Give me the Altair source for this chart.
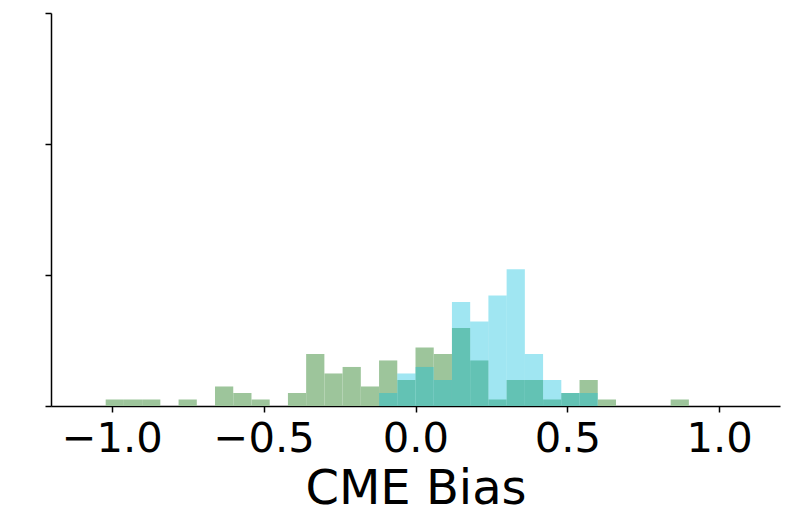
import altair as alt
import pandas as pd

# Shared histogram bin edges (CME bias)
bin_edges = [-1.02, -0.96, -0.90, -0.84, -0.78, -0.72, -0.66, -0.60, -0.54, -0.48,
             -0.42, -0.36, -0.30, -0.24, -0.18, -0.12, -0.06, 0.00, 0.06, 0.12,
             0.18, 0.24, 0.30, 0.36, 0.42, 0.48, 0.54, 0.60, 0.66, 0.72,
             0.78, 0.84, 0.90]

# Counts per bin
green_counts = [1, 1, 1, 0, 1, 0, 3, 2, 1, 0,
                2, 8, 5, 6, 3, 7, 4, 9, 8, 12,
                7, 1, 4, 4, 1, 2, 4, 1, 0, 0,
                0, 1]
cyan_counts = [0, 0, 0, 0, 0, 0, 0, 0, 0, 0,
               0, 0, 0, 0, 0, 2, 5, 6, 4, 16,
               13, 17, 21, 8, 4, 2, 2, 0, 0, 0,
               0, 0]

x_ticks = [-1.0, -0.5, 0.0, 0.5, 1.0]
y_top = 60.4
y_ticks = [0, 20.13, 40.27, 60.4]

def frame(counts):
    return pd.DataFrame({
        "start": bin_edges[:-1],
        "end": bin_edges[1:],
        "count": counts,
    })

green_df = frame(green_counts)
cyan_df = frame(cyan_counts)

x_enc = alt.X(
    "start:Q",
    scale=alt.Scale(domain=[-1.2, 1.2], nice=False, zero=False),
    axis=alt.Axis(
        values=x_ticks,
        labelExpr="replace(format(datum.value, '.1f'), '-', '\u2212')",
        labelFont="DejaVu Sans",
        labelFontSize=41.7,
        labelColor="black",
        labelPadding=6,
        tickSize=6,
        tickWidth=1.5,
        tickColor="black",
        domainColor="black",
        domainWidth=1.5,
        grid=False,
        title="CME Bias",
        titleFont="DejaVu Sans",
        titleFontSize=48,
        titleFontWeight="normal",
        titleColor="black",
        titleBaseline="alphabetic",
        titleY=97,
    ),
)
y_enc = alt.Y(
    "count:Q",
    scale=alt.Scale(domain=[0, y_top], nice=False),
    axis=alt.Axis(
        values=y_ticks,
        labels=False,
        tickSize=6,
        tickWidth=1.5,
        tickColor="black",
        domainColor="black",
        domainWidth=1.5,
        grid=False,
        title=None,
    ),
)

green = alt.Chart(green_df).mark_rect(color="#9DC59B").encode(
    x=x_enc, x2="end:Q", y=y_enc, y2=alt.datum(0)
)
cyan = alt.Chart(cyan_df).mark_rect(color="#05BDDD", opacity=0.38).encode(
    x="start:Q", x2="end:Q", y="count:Q", y2=alt.datum(0)
)

chart = (
    alt.layer(green, cyan)
    .properties(
        width=729,
        height=393,
        autosize=alt.AutoSizeParams(type="none"),
        padding={"left": 43, "top": 5, "right": 6, "bottom": 113},
        view=alt.ViewBackground(stroke="white", strokeWidth=0, strokeOpacity=0),
    )
    .configure_view(stroke="white", strokeWidth=0, strokeOpacity=0)
    .configure(background="white")
)

chart.save("out.html", embed_options={"renderer": "svg", "actions": False})
